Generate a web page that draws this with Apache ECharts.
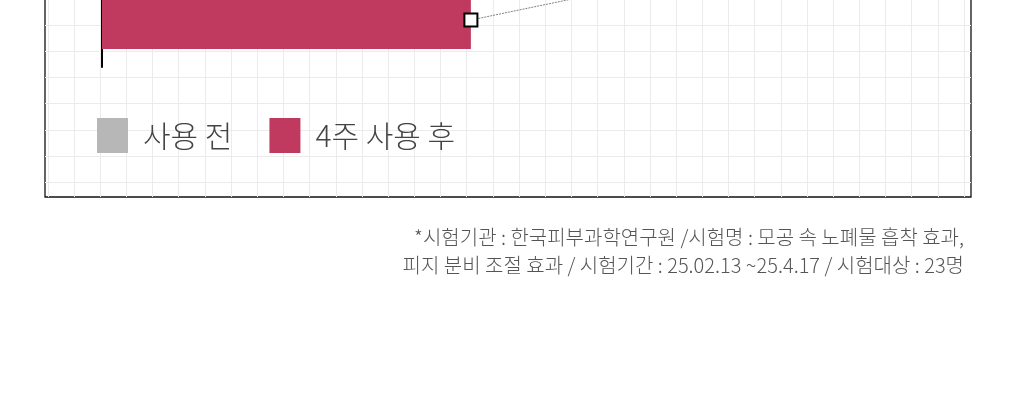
<!DOCTYPE html>
<html>
<head>
<meta charset="utf-8">
<script src="https://cdn.jsdelivr.net/npm/echarts@6/dist/echarts.min.js"></script>
<style>
    html, body { margin: 0; padding: 0; background: #fff; }
    #chart { width: 1020px; height: 418px; }
</style>
</head>
<body>
<div id="chart"></div>
<script>
// data (top bar is cut off in the reference)
var groups = ['사용 전', '4주 사용 후'];
var beforeValues = [96.7, '-'];
var afterValues = ['-', 43.4];
var trendValues = [96.7, 43.4];
var noteLines = [
    '*시험기관 : 한국피부과학연구원 /시험명 : 모공 속 노폐물 흡착 효과,',
    '피지 분비 조절 효과 / 시험기간 : 25.02.13 ~25.4.17 / 시험대상 : 23명'
];

var colorBefore = '#b7b7b7';
var colorAfter = '#c03a60';
var fontKr = '"Noto Sans CJK KR", "Noto Sans", sans-serif';
var gridLine = '#ebebeb';

var myChart = echarts.init(document.getElementById('chart'));

function hiddenAxis(idx, extra) {
    var ax = {
        gridIndex: idx,
        type: 'value',
        axisLine: {show: false},
        axisTick: {show: false},
        axisLabel: {show: false},
        splitLine: {show: false}
    };
    for (var k in extra) ax[k] = extra[k];
    return ax;
}

var option = {
    animation: false,
    backgroundColor: '#fff',
    title: {
        text: noteLines.join('\n'),
        left: 964,
        top: 223,
        padding: 0,
        textAlign: 'right',
        textStyle: {
            fontFamily: fontKr,
            fontSize: 20,
            fontWeight: 300,
            lineHeight: 28,
            color: '#555'
        }
    },
    legend: {
        data: groups,
        left: 97,
        top: 118,
        padding: 0,
        icon: 'rect',
        itemWidth: 31,
        itemHeight: 35,
        itemGap: 37,
        selectedMode: false,
        textStyle: {
            fontFamily: fontKr,
            fontSize: 30,
            fontWeight: 300,
            color: '#444',
            padding: [0, 0, 0, 10]
        }
    },
    grid: [
        // main bars
        {left: 102, top: -121, width: 850, height: 188, outerBoundsMode: 'none'},
        // vertical background lines
        {left: 47.8, top: 0, width: 916.3, height: 197, outerBoundsMode: 'none'},
        // horizontal background lines
        {left: 45, top: -1, width: 926, height: 183.05, outerBoundsMode: 'none'},
        // frame
        {left: 45, top: -10, width: 926, height: 207, show: true, outerBoundsMode: 'none',
         borderColor: '#111', borderWidth: 1.3, backgroundColor: 'transparent'}
    ],
    xAxis: [
        hiddenAxis(0, {min: 0, max: 100}),
        hiddenAxis(1, {min: 0, max: 35, interval: 1,
            splitLine: {show: true, lineStyle: {color: gridLine, width: 1}}}),
        hiddenAxis(2, {min: 0, max: 1}),
        hiddenAxis(3, {min: 0, max: 1})
    ],
    yAxis: [
        {
            gridIndex: 0,
            type: 'category',
            data: groups,
            inverse: true,
            axisLine: {show: true, lineStyle: {color: '#000', width: 2}},
            axisTick: {show: false},
            axisLabel: {show: false},
            splitLine: {show: false}
        },
        hiddenAxis(1, {min: 0, max: 1}),
        hiddenAxis(2, {min: 0, max: 7, interval: 1, inverse: true,
            splitLine: {show: true, lineStyle: {color: gridLine, width: 1}}}),
        hiddenAxis(3, {min: 0, max: 1})
    ],
    series: [
        {
            name: groups[0],
            type: 'bar',
            stack: 'total',
            barWidth: 58,
            data: beforeValues,
            itemStyle: {color: colorBefore},
            z: 2
        },
        {
            name: groups[1],
            type: 'bar',
            stack: 'total',
            barWidth: 58,
            data: afterValues,
            itemStyle: {color: colorAfter},
            z: 2
        },
        {
            name: 'trend',
            type: 'line',
            data: trendValues,
            symbol: 'rect',
            symbolSize: 13,
            showAllSymbol: true,
            itemStyle: {color: '#fff', borderColor: '#000', borderWidth: 2},
            lineStyle: {color: '#808080', width: 1, type: [2, 1]},
            silent: true,
            z: 5
        }
    ]
};

myChart.setOption(option);
</script>
</body>
</html>
